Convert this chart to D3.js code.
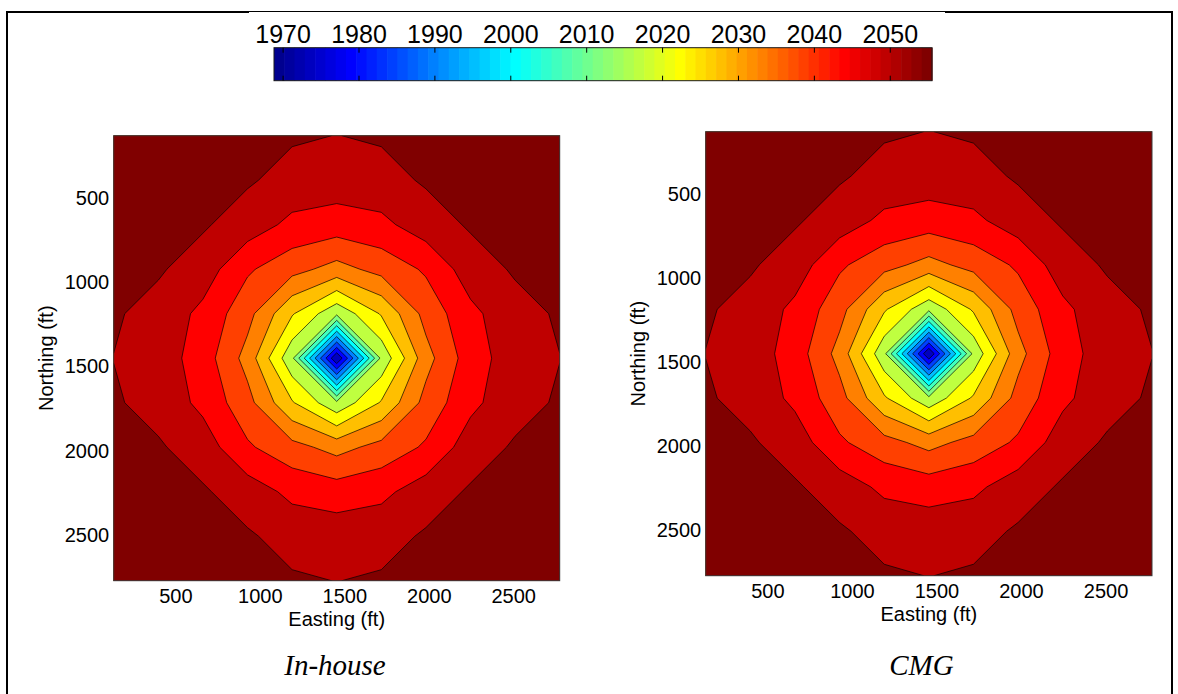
<!DOCTYPE html>
<html>
<head>
<meta charset="utf-8">
<script src="https://cdn.jsdelivr.net/npm/d3@7"></script>
<style>
  html, body { margin: 0; padding: 0; background: #fff; }
  svg { display: block; }
  text { font-family: "Liberation Sans", Arial, Helvetica, sans-serif; fill: #000; }
  .caption { font-family: "Liberation Serif", "Times New Roman", serif; font-style: italic; }
</style>
</head>
<body>
<svg id="fig" width="1178" height="694"></svg>
<script>
// ---- data -------------------------------------------------------------
// grid node coordinates (ft)
const eastingFt  = [132, 396, 660, 924, 1188, 1452, 1716, 1980, 2244, 2508, 2772];
const northingFt = [132, 396, 660, 924, 1188, 1452, 1716, 1980, 2244, 2508, 2772];

// arrival year at each grid node, rows run north to south
const inHouseYears = [
  [2055.5, 2054.8, 2053.8, 2052.3, 2050.7, 2050.0, 2050.7, 2052.3, 2053.8, 2054.8, 2055.5],
  [2054.8, 2054.0, 2052.8, 2050.7, 2048.2, 2047.5, 2048.2, 2050.7, 2052.8, 2054.0, 2054.8],
  [2053.8, 2052.8, 2050.7, 2047.5, 2043.3, 2042.1, 2043.3, 2047.5, 2050.7, 2052.8, 2053.8],
  [2052.3, 2050.7, 2047.5, 2040.0, 2035.7, 2031.8, 2035.7, 2040.0, 2047.5, 2050.7, 2052.3],
  [2050.7, 2048.2, 2043.3, 2035.7, 2023.5, 2013.4, 2023.5, 2035.7, 2043.3, 2048.2, 2050.7],
  [2050.0, 2047.5, 2042.1, 2031.8, 2013.4, 1968.8, 2013.4, 2031.8, 2042.1, 2047.5, 2050.0],
  [2050.7, 2048.2, 2043.3, 2035.7, 2023.5, 2013.4, 2023.5, 2035.7, 2043.3, 2048.2, 2050.7],
  [2052.3, 2050.7, 2047.5, 2040.0, 2035.7, 2031.8, 2035.7, 2040.0, 2047.5, 2050.7, 2052.3],
  [2053.8, 2052.8, 2050.7, 2047.5, 2043.3, 2042.1, 2043.3, 2047.5, 2050.7, 2052.8, 2053.8],
  [2054.8, 2054.0, 2052.8, 2050.7, 2048.2, 2047.5, 2048.2, 2050.7, 2052.8, 2054.0, 2054.8],
  [2055.5, 2054.8, 2053.8, 2052.3, 2050.7, 2050.0, 2050.7, 2052.3, 2053.8, 2054.8, 2055.5]
];

const cmgYears = [
  [2055.5, 2054.8, 2053.8, 2052.3, 2050.7, 2050.0, 2050.7, 2052.3, 2053.8, 2054.8, 2055.5],
  [2054.8, 2054.0, 2052.8, 2050.7, 2048.3, 2047.6, 2048.3, 2050.7, 2052.8, 2054.0, 2054.8],
  [2053.8, 2052.8, 2050.7, 2047.6, 2043.4, 2042.2, 2043.4, 2047.6, 2050.7, 2052.8, 2053.8],
  [2052.3, 2050.7, 2047.6, 2040.1, 2035.8, 2031.9, 2035.8, 2040.1, 2047.6, 2050.7, 2052.3],
  [2050.7, 2048.3, 2043.4, 2035.8, 2023.7, 2013.6, 2023.7, 2035.8, 2043.4, 2048.3, 2050.7],
  [2050.0, 2047.6, 2042.2, 2031.9, 2013.6, 1968.8, 2013.6, 2031.9, 2042.2, 2047.6, 2050.0],
  [2050.7, 2048.3, 2043.4, 2035.8, 2023.7, 2013.6, 2023.7, 2035.8, 2043.4, 2048.3, 2050.7],
  [2052.3, 2050.7, 2047.6, 2040.1, 2035.8, 2031.9, 2035.8, 2040.1, 2047.6, 2050.7, 2052.3],
  [2053.8, 2052.8, 2050.7, 2047.6, 2043.4, 2042.2, 2043.4, 2047.6, 2050.7, 2052.8, 2053.8],
  [2054.8, 2054.0, 2052.8, 2050.7, 2048.3, 2047.6, 2048.3, 2050.7, 2052.8, 2054.0, 2054.8],
  [2055.5, 2054.8, 2053.8, 2052.3, 2050.7, 2050.0, 2050.7, 2052.3, 2053.8, 2054.8, 2055.5]
];

const colorRange    = [1968.8, 2055.5];
const colorbarTicks = [1970, 1980, 1990, 2000, 2010, 2020, 2030, 2040, 2050];
const axisTicks     = [500, 1000, 1500, 2000, 2500];
const panelTitles   = ["In-house", "CMG"];
const bandCount     = 16;

// ---- colormap (MATLAB-style jet with 64 entries) ------------------------
function jetTable(m) {
  const n = Math.ceil(m / 4);
  const u = [];
  for (let i = 1; i <= n; i++) u.push(i / n);
  for (let i = 0; i < n - 1; i++) u.push(1);
  for (let i = n; i >= 1; i--) u.push(i / n);
  const off = Math.ceil(n / 2) - (m % 4 === 1 ? 1 : 0);
  const J = Array.from({ length: m }, () => [0, 0, 0]);
  for (let k = 0; k < u.length; k++) {
    const g = off + k + 1, r = g + n, b = g - n;
    if (g >= 1 && g <= m) J[g - 1][1] = u[k];
    if (r >= 1 && r <= m) J[r - 1][0] = u[k];
    if (b >= 1 && b <= m) J[b - 1][2] = u[k];
  }
  return J.map(c => d3.rgb(c[0] * 255, c[1] * 255, c[2] * 255).formatHex());
}
const jet = jetTable(64);

// contour levels split the colour range into equal bands
const step = (colorRange[1] - colorRange[0]) / bandCount;
const levels = d3.range(1, bandCount).map(k => colorRange[0] + k * step);
const bandColor = k => jet[Math.min(63, 4 * k + 3)];

const svg = d3.select("#fig");

// ---- page frame ---------------------------------------------------------
svg.append("line").attr("x1", 7).attr("x2", 7).attr("y1", 11).attr("y2", 694)
  .attr("stroke", "#000").attr("stroke-width", 2);
svg.append("line").attr("x1", 1172).attr("x2", 1172).attr("y1", 11).attr("y2", 694)
  .attr("stroke", "#000").attr("stroke-width", 2);
svg.append("line").attr("x1", 6).attr("x2", 249).attr("y1", 12).attr("y2", 12)
  .attr("stroke", "#000").attr("stroke-width", 2);
svg.append("line").attr("x1", 945).attr("x2", 1173).attr("y1", 12).attr("y2", 12)
  .attr("stroke", "#000").attr("stroke-width", 2);
svg.append("line").attr("x1", 249).attr("x2", 945).attr("y1", 11.5).attr("y2", 11.5)
  .attr("stroke", "#000").attr("stroke-width", 1);

// ---- colorbar -----------------------------------------------------------
const cb = { x0: 274, x1: 932, y0: 47.7, y1: 80.7 };
const cbScale = d3.scaleLinear().domain(colorRange).range([cb.x0, cb.x1]);
const cbW = (cb.x1 - cb.x0) / jet.length;
svg.append("g").selectAll("rect").data(jet).join("rect")
  .attr("x", (d, i) => cb.x0 + i * cbW)
  .attr("y", cb.y0)
  .attr("width", cbW + 0.6)
  .attr("height", cb.y1 - cb.y0)
  .attr("fill", d => d);
svg.append("rect").attr("x", cb.x0).attr("y", cb.y0)
  .attr("width", cb.x1 - cb.x0).attr("height", cb.y1 - cb.y0)
  .attr("fill", "none").attr("stroke", "#1a1a1a").attr("stroke-width", 1);
const cbTicks = svg.append("g");
colorbarTicks.forEach(t => {
  const x = cbScale(t);
  cbTicks.append("line").attr("x1", x).attr("x2", x).attr("y1", cb.y0).attr("y2", cb.y0 + 5)
    .attr("stroke", "#000").attr("stroke-width", 1);
  cbTicks.append("line").attr("x1", x).attr("x2", x).attr("y1", cb.y1 - 5).attr("y2", cb.y1)
    .attr("stroke", "#000").attr("stroke-width", 1);
  cbTicks.append("text").attr("x", x).attr("y", 42.7)
    .attr("text-anchor", "middle").attr("font-size", 25).text(t);
});

// ---- contour panels -----------------------------------------------------
function drawPanel(id, years, box, title, titleX) {
  const xs = d3.scaleLinear().domain([eastingFt[0], eastingFt[eastingFt.length - 1]]).range([box.x0, box.x1]);
  const ys = d3.scaleLinear().domain([northingFt[0], northingFt[northingFt.length - 1]]).range([box.y0, box.y1]);

  // replicate the edge nodes once so the contour tracer closes rings outside the axes
  const nx = eastingFt.length, ny = northingFt.length;
  const W = nx + 2, H = ny + 2;
  const vals = new Array(W * H);
  for (let r = 0; r < H; r++) {
    for (let c = 0; c < W; c++) {
      const rr = Math.min(ny - 1, Math.max(0, r - 1));
      const cc = Math.min(nx - 1, Math.max(0, c - 1));
      vals[r * W + c] = years[rr][cc];
    }
  }
  const dxFt = eastingFt[1] - eastingFt[0];
  const dyFt = northingFt[1] - northingFt[0];
  const proj = d3.geoTransform({
    point(px, py) {
      this.stream.point(xs(eastingFt[0] + dxFt * (px - 1.5)), ys(northingFt[0] + dyFt * (py - 1.5)));
    }
  });
  const path = d3.geoPath(proj);
  const bands = d3.contours().size([W, H]).thresholds(levels)(vals);

  const g = svg.append("g");
  g.append("clipPath").attr("id", id).append("rect")
    .attr("x", box.x0).attr("y", box.y0)
    .attr("width", box.x1 - box.x0).attr("height", box.y1 - box.y0);
  const plot = g.append("g").attr("clip-path", `url(#${id})`);
  plot.append("rect").attr("x", box.x0).attr("y", box.y0)
    .attr("width", box.x1 - box.x0).attr("height", box.y1 - box.y0)
    .attr("fill", bandColor(0));
  bands.forEach((c, i) => {
    plot.append("path").attr("d", path(c))
      .attr("fill", bandColor(i + 1))
      .attr("stroke", "#000").attr("stroke-width", 0.75).attr("stroke-opacity", 0.9)
      .attr("stroke-linejoin", "miter");
  });
  g.append("rect").attr("x", box.x0).attr("y", box.y0)
    .attr("width", box.x1 - box.x0).attr("height", box.y1 - box.y0)
    .attr("fill", "none").attr("stroke", "#3a3a3a").attr("stroke-width", 1);

  // tick labels
  axisTicks.forEach(t => {
    g.append("text").attr("x", xs(t)).attr("y", box.y1 + 22.6)
      .attr("text-anchor", "middle").attr("font-size", 20).text(t);
    g.append("text").attr("x", box.x0 - 4.5).attr("y", ys(t)).attr("dy", "0.36em")
      .attr("text-anchor", "end").attr("font-size", 20).text(t);
  });
  g.append("text").attr("x", (box.x0 + box.x1) / 2).attr("y", box.y1 + 45.3)
    .attr("text-anchor", "middle").attr("font-size", 20).text("Easting (ft)");
  const cy = (box.y0 + box.y1) / 2;
  g.append("text").attr("transform", `translate(${box.x0 - 61},${cy}) rotate(-90)`)
    .attr("text-anchor", "middle").attr("font-size", 20).text("Northing (ft)");
  g.append("text").attr("class", "caption").attr("x", titleX).attr("y", 675)
    .attr("text-anchor", "middle").attr("font-size", 29).text(title);
}

drawPanel("clipA", inHouseYears, { x0: 113.7, x1: 559.7, y0: 135.7, y1: 580.7 }, panelTitles[0], 335);
drawPanel("clipB", cmgYears,     { x0: 705.7, x1: 1152,  y0: 131.7, y1: 575.7 }, panelTitles[1], 921.5);
</script>
</body>
</html>
